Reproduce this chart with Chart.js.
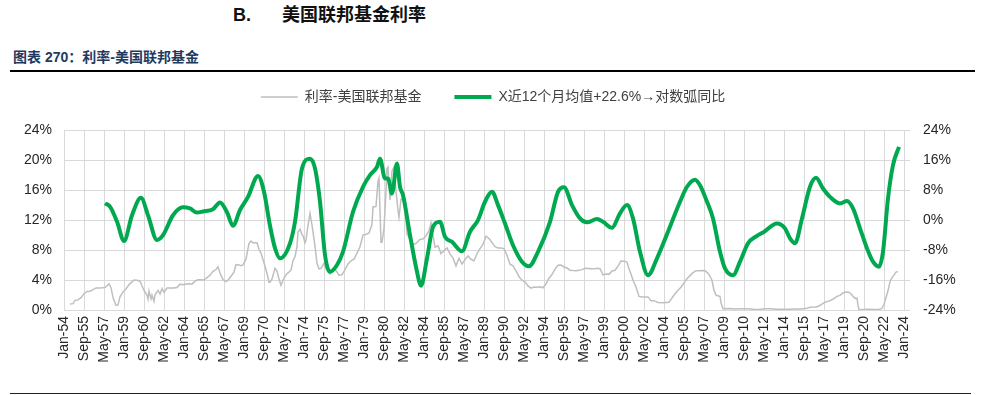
<!DOCTYPE html>
<html>
<head>
<meta charset="utf-8">
<script src="https://cdn.jsdelivr.net/npm/chart.js@4.4.1/dist/chart.umd.min.js"></script>
<style>
  html, body { margin: 0; padding: 0; background: #fff; }
  body { width: 996px; height: 395px; position: relative; overflow: hidden; font-family: 'Liberation Sans', 'Noto Sans CJK SC', sans-serif; }
  #chart { position: absolute; left: 0; top: 0; }
  .title { position: absolute; top: 4px; font-size: 18px; font-weight: bold; color: #111; line-height: 22px; }
  #subtitle { position: absolute; left: 13px; top: 48px; font-size: 14px; font-weight: bold; color: #1F3A5F; line-height: 18px; white-space: nowrap; }
  #topRule { position: absolute; left: 10px; top: 70px; width: 965px; height: 2px; background: #000; }
  #bottomRule { position: absolute; left: 10px; top: 393px; width: 961px; height: 1px; background: #222; }
</style>
</head>
<body>
<div class="title" style="left:233px;">B.</div>
<div class="title" style="left:282px;">美国联邦基金利率</div>
<div id="subtitle">图表 270：利率-美国联邦基金</div>
<div id="topRule"></div>
<div id="bottomRule"></div>
<canvas id="chart" width="996" height="395"></canvas>
<script>
// ---------- data ----------
const seriesNames = ['利率-美国联邦基金', 'X近12个月均值+22.6%→对数弧同比'];

// Federal funds rate (%), left axis
const fedDates = [
 '1954-07','1954-10','1954-12','1955-03','1955-06','1955-09','1955-12','1956-03','1956-06','1956-09','1956-12',
 '1957-03','1957-06','1957-08','1957-10','1957-12','1958-02','1958-05','1958-07','1958-09','1958-12',
 '1959-03','1959-06','1959-09','1959-11','1960-02','1960-05','1960-07','1960-09','1960-12',
 '1961-01','1961-02','1961-04','1961-05','1961-07','1961-08','1961-11','1962-01','1962-03','1962-05','1962-08','1962-12',
 '1963-03','1963-06','1963-09','1963-12','1964-03','1964-06','1964-09','1964-12',
 '1965-03','1965-06','1965-09','1965-12','1966-03','1966-06','1966-09','1966-11',
 '1967-01','1967-04','1967-07','1967-09','1967-12','1968-03','1968-05','1968-08','1968-10','1968-12',
 '1969-03','1969-06','1969-08','1969-10','1969-12','1970-02','1970-04','1970-06','1970-09','1970-12',
 '1971-02','1971-03','1971-05','1971-08','1971-10','1971-12','1972-02','1972-05','1972-08','1972-10','1972-12',
 '1973-02','1973-04','1973-06','1973-07','1973-09','1973-11','1973-12','1974-02','1974-03','1974-05','1974-07','1974-09','1974-11','1974-12',
 '1975-02','1975-04','1975-06','1975-09','1975-12','1976-03','1976-06','1976-09','1976-12',
 '1977-03','1977-06','1977-09','1977-12','1978-03','1978-06','1978-09','1978-12',
 '1979-03','1979-06','1979-09','1979-10','1979-12','1980-01','1980-03','1980-04','1980-06','1980-07','1980-09','1980-11','1980-12',
 '1981-01','1981-03','1981-05','1981-07','1981-09','1981-11','1981-12','1982-02','1982-04','1982-06','1982-08','1982-10','1982-12',
 '1983-03','1983-06','1983-09','1983-12','1984-03','1984-06','1984-08','1984-10','1984-12',
 '1985-03','1985-06','1985-09','1985-12','1986-03','1986-06','1986-09','1986-12',
 '1987-03','1987-06','1987-09','1987-12','1988-03','1988-06','1988-09','1988-12',
 '1989-03','1989-06','1989-09','1989-12','1990-03','1990-06','1990-09','1990-12',
 '1991-03','1991-06','1991-09','1991-12','1992-03','1992-06','1992-09','1992-12',
 '1993-03','1993-06','1993-09','1993-12','1994-03','1994-06','1994-09','1994-12',
 '1995-03','1995-06','1995-09','1995-12','1996-03','1996-06','1996-09','1996-12',
 '1997-03','1997-06','1997-09','1997-12','1998-03','1998-06','1998-09','1998-12',
 '1999-03','1999-06','1999-09','1999-12','2000-03','2000-06','2000-09','2000-12',
 '2001-02','2001-04','2001-06','2001-09','2001-12','2002-03','2002-06','2002-09','2002-12',
 '2003-03','2003-07','2003-12','2004-06','2004-09','2004-12','2005-03','2005-06','2005-09','2005-12',
 '2006-03','2006-06','2006-09','2006-12','2007-03','2007-06','2007-08','2007-10','2007-12',
 '2008-01','2008-03','2008-05','2008-09','2008-10','2008-12','2009-06','2009-12','2010-06','2010-12',
 '2011-06','2011-12','2012-06','2012-12','2013-06','2013-12','2014-06','2014-12','2015-06','2015-12',
 '2016-03','2016-09','2016-12','2017-03','2017-06','2017-09','2017-12','2018-03','2018-06','2018-09','2018-12',
 '2019-03','2019-06','2019-08','2019-10','2019-12','2020-02','2020-03','2020-04','2020-12','2021-06','2021-12',
 '2022-03','2022-05','2022-07','2022-09','2022-11','2023-01','2023-03','2023-05','2023-07'
];
const fedRates = [
 0.80,0.85,1.28,1.35,1.64,2.18,2.48,2.50,2.71,2.95,2.94,
 2.96,3.00,3.24,3.50,2.98,1.67,0.63,0.68,1.76,2.42,
 2.80,3.39,3.76,4.00,3.97,3.85,3.23,2.60,1.98,
 1.45,2.54,1.49,1.98,1.17,2.00,2.61,2.15,2.85,2.36,2.93,2.93,
 2.95,3.00,3.45,3.38,3.47,3.50,3.45,3.85,
 4.04,4.04,4.01,4.32,4.65,5.17,5.40,5.77,
 4.94,4.05,3.79,3.99,4.51,5.05,6.07,6.02,5.92,6.02,
 6.79,8.90,9.19,8.97,8.97,8.98,8.10,7.60,6.29,4.90,
 3.71,3.71,4.15,5.57,5.20,4.14,3.29,4.27,4.87,5.04,5.33,
 6.58,7.12,8.49,10.40,10.78,10.03,9.95,8.97,9.35,11.31,12.92,11.34,9.45,8.53,
 6.24,5.49,5.55,6.24,5.20,4.84,5.48,5.25,4.65,
 4.69,5.39,6.14,6.56,6.79,7.60,8.45,10.03,
 10.09,10.29,11.43,13.77,13.78,13.82,17.19,17.61,9.03,9.03,10.87,15.85,18.90,
 19.08,14.70,18.52,19.10,15.87,13.31,12.37,14.78,14.94,14.15,10.12,9.71,8.95,
 8.77,8.98,9.45,9.47,9.91,10.55,11.64,9.99,8.38,
 8.58,7.53,7.92,8.27,7.48,6.92,5.89,6.91,
 6.13,6.73,7.22,6.77,6.58,7.51,8.19,8.76,
 9.85,9.53,9.02,8.45,8.28,8.29,8.20,7.31,
 6.12,5.90,5.22,4.43,3.98,3.76,3.22,2.92,
 3.07,3.04,3.09,2.96,3.48,4.25,4.73,5.45,
 5.98,6.00,5.74,5.60,5.31,5.27,5.24,5.29,
 5.39,5.56,5.54,5.50,5.49,5.56,5.51,4.68,
 4.81,4.76,5.22,5.30,5.85,6.53,6.52,6.40,
 5.49,4.80,3.97,3.07,1.82,1.73,1.75,1.75,1.24,
 1.25,1.01,0.98,1.03,1.61,2.16,2.63,3.04,3.62,4.16,
 4.59,4.99,5.25,5.24,5.26,5.25,5.02,4.76,4.24,
 3.94,2.61,1.98,1.81,0.97,0.16,0.21,0.12,0.18,0.18,
 0.09,0.07,0.16,0.16,0.09,0.09,0.10,0.12,0.13,0.24,
 0.36,0.40,0.54,0.79,1.04,1.15,1.30,1.51,1.82,1.95,2.27,
 2.41,2.38,2.13,1.83,1.55,1.58,0.65,0.05,0.09,0.08,0.08,
 0.20,0.77,1.68,2.56,3.78,4.33,4.65,5.06,5.12
];

// 12-month average log YoY + 22.6% (%), right axis
const yoyDates = [
 '1957-06','1957-11','1958-06','1959-01','1959-09','1960-06','1961-01','1961-10','1962-04','1963-02',
 '1963-12','1964-07','1965-02','1965-08','1966-06','1967-01','1967-08','1968-02','1968-09','1969-05',
 '1970-03','1970-09','1971-03','1971-08','1972-01','1972-11','1973-04','1973-11','1974-07','1974-12',
 '1975-05','1975-10','1976-03','1976-10','1977-04','1978-02','1978-12','1979-07','1980-02','1980-05',
 '1980-10','1981-01','1981-05','1981-10','1982-01','1982-04','1982-11','1983-06','1983-10','1984-04',
 '1984-10','1985-05','1985-10','1986-05','1987-03','1987-11','1988-07','1989-02','1989-09','1990-03',
 '1990-10','1991-06','1992-03','1992-10','1993-07','1994-07','1995-03','1995-09','1996-05','1997-01',
 '1997-08','1998-06','1998-12','1999-09','2000-05','2000-12','2001-06','2002-01','2002-09','2003-06',
 '2004-05','2005-05','2005-12','2006-08','2007-01','2007-08','2008-02','2008-09','2009-02','2009-10',
 '2010-05','2011-01','2011-10','2012-04','2013-06','2014-02','2014-07','2014-12','2015-07','2016-03',
 '2016-09','2017-04','2017-11','2018-09','2019-04','2019-10','2020-05','2020-12','2021-06','2021-12',
 '2022-04','2022-09','2023-02','2023-08'
];
const yoyValues = [
 4.45,3.6,-0.4,-5.6,1.3,5.95,1.3,-5.3,-4.0,1.3,
 3.4,3.1,2.0,2.3,2.9,4.7,2.1,-1.5,2.7,6.2,
 11.8,7.55,-1.5,-7.5,-10.2,-6.2,-0.45,13.8,16.4,13.8,
 4.9,-9.3,-13.8,-12.0,-8.45,2.2,8.9,12.0,14.2,16.4,
 11.1,11.1,7.1,15.1,8.9,6.7,-4.0,-13.8,-17.5,-10.2,
 -1.8,-0.45,-4.45,-5.8,-8.3,-3.1,0.0,4.9,7.55,4.0,
 -0.9,-6.7,-11.1,-12.3,-8.45,-0.45,7.55,8.8,4.0,0.45,
 -0.6,0.3,-0.45,-2.05,1.8,4.0,0.45,-8.45,-14.7,-10.2,
 -3.1,4.9,8.9,10.8,9.3,4.9,0.45,-8.45,-12.9,-14.7,
 -11.1,-6.2,-4.2,-3.3,-0.9,-2.2,-4.9,-6.2,0.45,8.9,
 11.3,8.45,6.2,4.45,5.1,3.1,-2.2,-7.55,-11.1,-12.45,
 -8.45,5.8,14.7,19.55
];

// axes
const xStartYear = 1954;
const xMinMonth = 0;
const xMaxMonth = 846;
const xTickStepMonths = 20;
const leftTicks = [0, 4, 8, 12, 16, 20, 24];
const rightTicks = [-24, -16, -8, 0, 8, 16, 24];
const monthNames = ['Jan','Feb','Mar','Apr','May','Jun','Jul','Aug','Sep','Oct','Nov','Dec'];

// ---------- helpers ----------
function monthIndex(s) {
  const p = s.split('-').map(Number);
  return (p[0] - xStartYear) * 12 + (p[1] - 1);
}
function monthLabel(m) {
  const y = xStartYear + Math.floor(m / 12);
  return monthNames[m % 12] + '-' + String(y).slice(2);
}
const fedPoints = fedDates.map((d, i) => ({ x: monthIndex(d), y: fedRates[i] }));
const yoyPoints = yoyDates.map((d, i) => ({ x: monthIndex(d), y: yoyValues[i] }));

const FONT = "'Liberation Sans', 'Noto Sans CJK SC', sans-serif";
Chart.defaults.font.family = FONT;
Chart.defaults.color = '#262626';

new Chart(document.getElementById('chart'), {
  type: 'line',
  data: {
    datasets: [
      {
        label: seriesNames[0],
        data: fedPoints,
        yAxisID: 'y',
        borderColor: '#BFBFBF',
        backgroundColor: '#BFBFBF',
        borderWidth: 1.5,
        pointRadius: 0,
        tension: 0,
        order: 2
      },
      {
        label: seriesNames[1],
        data: yoyPoints,
        yAxisID: 'y2',
        borderColor: '#00A94F',
        backgroundColor: '#00A94F',
        borderWidth: 4,
        pointRadius: 0,
        cubicInterpolationMode: 'monotone',
        order: 1
      }
    ]
  },
  options: {
    responsive: false,
    animation: false,
    layout: { padding: { top: 57, left: 0, right: 10, bottom: 0 } },
    plugins: {
      legend: {
        display: true,
        position: 'top',
        labels: {
          usePointStyle: true,
          pointStyle: 'line',
          pointStyleWidth: 37,
          padding: 33,
          color: '#404040',
          font: { size: 14, family: FONT },
          sort: (a, b) => a.datasetIndex - b.datasetIndex
        }
      },
      subtitle: {
        display: true,
        text: '',
        weight: 100,
        font: { size: 1 },
        padding: { top: 0, bottom: 15 }
      },
      tooltip: { enabled: false }
    },
    scales: {
      x: {
        type: 'linear',
        min: xMinMonth,
        max: xMaxMonth,
        afterFit: s => { s.height = 85; },
        afterBuildTicks: s => { s.ticks = []; for (let m = xMinMonth; m <= xMaxMonth; m += xTickStepMonths) s.ticks.push({ value: m }); },
        ticks: {
          includeBounds: false,
          autoSkip: false,
          minRotation: 90,
          maxRotation: 90,
          padding: 6,
          font: { size: 14 },
          color: '#262626',
          callback: v => monthLabel(v)
        },
        grid: { color: '#D9D9D9', lineWidth: 1, drawTicks: false },
        border: { display: false }
      },
      y: {
        position: 'left',
        min: leftTicks[0],
        max: leftTicks[leftTicks.length - 1],
        afterFit: s => { s.width = 64; },
        afterBuildTicks: s => { s.ticks = leftTicks.map(v => ({ value: v })); },
        ticks: { padding: 12, font: { size: 14 }, callback: v => v + '%' },
        grid: { color: '#D9D9D9', lineWidth: 1, drawTicks: false },
        border: { display: false }
      },
      y2: {
        position: 'right',
        min: rightTicks[0],
        max: rightTicks[rightTicks.length - 1],
        afterFit: s => { s.width = 76; },
        afterBuildTicks: s => { s.ticks = rightTicks.map(v => ({ value: v })); },
        ticks: { padding: 13, font: { size: 14 }, callback: v => v + '%' },
        grid: { display: false, drawTicks: false },
        border: { display: false }
      }
    }
  }
});
</script>
</body>
</html>
